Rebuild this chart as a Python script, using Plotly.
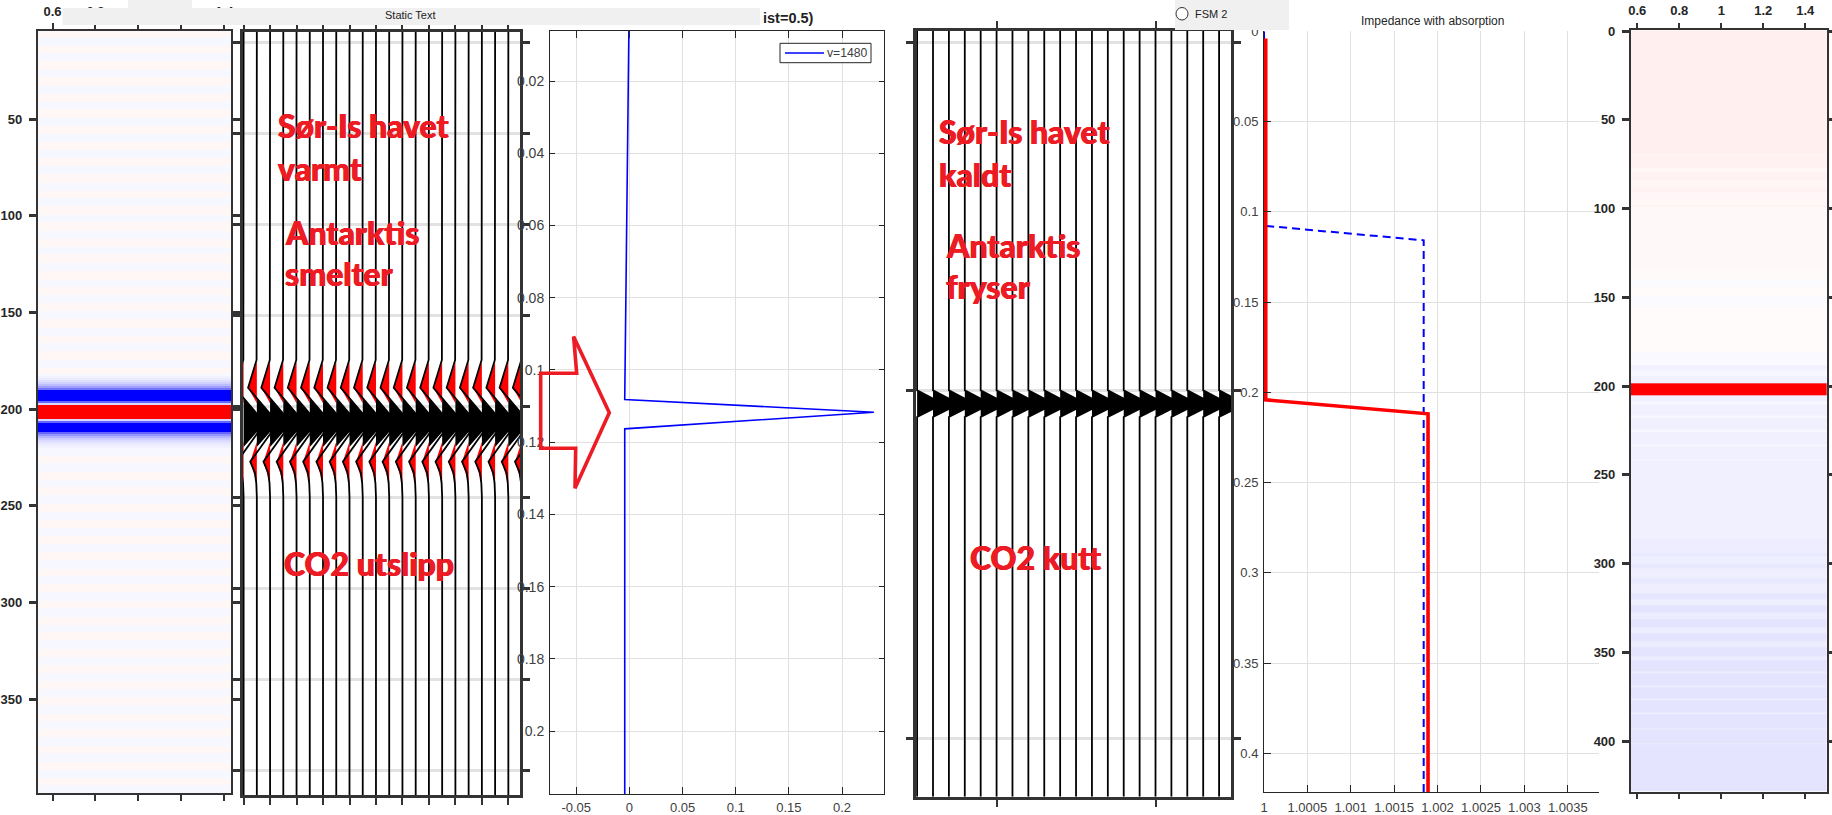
import plotly.graph_objects as go

W, H = 1832, 815
def fx(x): return x / W
def fy(y): return 1 - y / H

# ---------- data ----------
h1_edges = [4.5, 8, 12, 16, 20, 24.5, 28.5, 33, 37, 41, 45, 49.5, 53.5, 58, 62, 66, 70, 74.5, 78.5, 83, 87, 91, 95,
            99.5, 103.5, 108, 112, 116, 120, 124.5, 128.5, 133, 137, 141, 145, 149.5, 153.5, 158, 162, 166, 170,
            174.5, 178.5, 182,
            183, 184, 185, 186, 187, 188, 189, 190,
            196, 197, 198, 205, 206, 207, 212,
            213, 214, 215, 216, 217, 218, 219, 220,
            224, 228, 232.5, 236.5, 240.5, 244.5, 249, 253, 257.5, 261.5, 265.5, 269.5, 274, 278, 282.5, 286.5,
            290.5, 294.5, 299, 303, 307.5, 311.5, 315.5, 319.5, 324, 328, 332.5, 336.5, 340.5, 344.5, 349, 353,
            357.5, 361.5, 365.5, 369.5, 374, 378, 382.5, 386.5, 390.5, 394.5, 398.5]
h1_values = [0.035, -0.03, 0.035, -0.03, 0.035, -0.03, 0.035, -0.03, 0.035, -0.03, 0.035,
             -0.03, 0.035, -0.03, 0.035, -0.03, 0.035, -0.03, 0.035, -0.03, 0.035, -0.03,
             0.035, -0.03, 0.035, -0.03, 0.035, -0.03, 0.035, -0.03, 0.035, -0.03, 0.035,
             -0.03, 0.035, -0.03, 0.035, -0.03, 0.035, -0.03, 0.035, -0.03, 0.035,
             -0.03, -0.05, -0.08, -0.12, -0.18, -0.26, -0.38, -0.55,
             -1, -0.6, -0.15, 1, -0.15, -0.6, -1,
             -0.6, -0.42, -0.3, -0.2, -0.14, -0.1, -0.07, -0.05,
             -0.03, 0.035, -0.03, 0.035, -0.03, 0.035, -0.03, 0.035, -0.03, 0.035, -0.03,
             0.035, -0.03, 0.035, -0.03, 0.035, -0.03, 0.035, -0.03, 0.035, -0.03, 0.035,
             -0.03, 0.035, -0.03, 0.035, -0.03, 0.035, -0.03, 0.035, -0.03, 0.035, -0.03,
             0.035, -0.03, 0.035, -0.03, 0.035, -0.03, 0.035, -0.03, 0.035, -0.03]

h2_edges = [-0.5, 69.5, 70, 77, 79.5, 84, 88, 91, 98, 99, 133, 140, 144, 149, 155, 181, 188, 191, 194.5, 198.3, 205.2,
            208.5, 210.5, 216.5, 218, 224.4, 226, 232.6, 234, 241, 241.6, 285.7, 294, 296, 300.5, 302.8, 308.5, 311,
            316.5, 320, 323.7, 327.4, 331.5, 336, 339, 344, 347, 352, 354.5, 360.4, 362, 368.4, 369.5, 376, 377,
            383.7, 385, 393, 393.5, 401.5, 402, 428.5]
h2_values = [0.062, 0.03, 0.055, 0.03, 0.05, 0.03, 0.05, 0.03, 0.045, 0.027, 0.02, -0.02, 0.015, -0.02, 0.015, -0.025,
             -0.055, -0.03, -0.055, 1, -0.06,
             -0.03, -0.06, -0.03, -0.06, -0.03, -0.06, -0.03, -0.06, -0.03, -0.06, -0.07, -0.09, -0.065, -0.09,
             -0.065, -0.09, -0.065, -0.1, -0.065, -0.105, -0.07, -0.105, -0.07, -0.105, -0.07, -0.105, -0.07,
             -0.105, -0.07, -0.105, -0.07, -0.105, -0.07, -0.105, -0.07, -0.105, -0.07, -0.105, -0.07, -0.105]

w1_traces = [0, 1, 2, 3, 4, 5, 6, 7, 8, 9, 10, 11, 12, 13, 14, 15, 16, 17, 18, 19, 20, 21]
w1_line_t = [44.5, 200, 224.7, 240, 259.3, 280.6, 286.5, 292.5, 300, 463.7]
w1_line_a = [0, -0.02, -0.02, -0.66, 1.6, -0.5, -0.15, -0.04, 0, 0]
w1_neg_t = [[225.7, 240, 248.4], [269.6, 280.6, 292.5]]
w1_neg_a = [[0, -0.66, 0], [0, -0.5, 0]]
w1_pos_t = [246, 259.3, 272.5]
w1_pos_a = [0, 1.6, 0]

w2_traces = [0, 1, 2, 3, 4, 5, 6, 7, 8, 9, 10, 11, 12, 13, 14, 15, 16, 17, 18, 19]
w2_line_t = [46.67, 150, 153.9, 157.7, 266.8]
w2_line_a = [0, 0, 1.62, 0, 0]

refl_y = [0.00607, 0.02, 0.04, 0.07, 0.1082, 0.1117, 0.1163, 0.2174]
refl_x = [-0.0005, -0.001, -0.002, -0.0035, -0.0044, 0.23, -0.0044, -0.0044]

imp_red_x = [1.00002, 1.00002, 1.00189, 1.00189]
imp_red_y = [0.004, 0.2042, 0.2119, 0.4216]
imp_blue_x = [1, 1.00002, 1.00184, 1.00184]
imp_blue_y = [0, 0.1078, 0.1158, 0.4216]

h1_xticks = [0.6, 0.8, 1, 1.2, 1.4]
h1_yticks = [50, 100, 150, 200, 250, 300, 350]
h2_yticks = [0, 50, 100, 150, 200, 250, 300, 350, 400]
refl_xticks = [-0.05, 0, 0.05, 0.1, 0.15, 0.2]
refl_xlabels = ['-0.05', '0', '0.05', '0.1', '0.15', '0.2']
refl_yticks = [0.02, 0.04, 0.06, 0.08, 0.1, 0.12, 0.14, 0.16, 0.18, 0.2]
refl_ylabels = ['0.02', '0.04', '0.06', '0.08', '0.1', '0.12', '0.14', '0.16', '0.18', '0.2']
imp_xticks = [1, 1.0005, 1.001, 1.0015, 1.002, 1.0025, 1.003, 1.0035]
imp_xlabels = ['1', '1.0005', '1.001', '1.0015', '1.002', '1.0025', '1.003', '1.0035']
imp_yticks = [0, 0.05, 0.1, 0.15, 0.2, 0.25, 0.3, 0.35, 0.4]
imp_ylabels = ['0', '0.05', '0.1', '0.15', '0.2', '0.25', '0.3', '0.35', '0.4']

# ---------- style ----------
DARK = '#333333'
TXT = '#404040'
SANS = 'Liberation Sans'
RED_TXT = '#ED1C24'
GRID = '#E0E0E0'
BWR = [[0, 'rgb(0,0,255)'], [0.5, 'rgb(255,255,255)'], [1, 'rgb(255,0,0)']]

fig = go.Figure()

# heatmaps
fig.add_trace(go.Heatmap(x=[0.5, 1.5], y=h1_edges, z=[[v] for v in h1_values], colorscale=BWR, zmin=-1, zmax=1,
                         showscale=False, xaxis='x', yaxis='y'))
fig.add_trace(go.Heatmap(x=[0.5, 1.55], y=h2_edges, z=[[v] for v in h2_values], colorscale=BWR, zmin=-1, zmax=1,
                         showscale=False, xaxis='x6', yaxis='y6'))

def poly(traces, t, a):
    xs, ys = [], []
    for k in traces:
        xs += [k + v for v in a] + [None]
        ys += list(t) + [None]
    return xs, ys

# wiggle panel 1
for t, a in zip(w1_neg_t, w1_neg_a):
    xs, ys = poly(w1_traces, t, a)
    fig.add_trace(go.Scatter(x=xs, y=ys, mode='lines', fill='toself', fillcolor='#FF0000', line=dict(width=0),
                             xaxis='x2', yaxis='y2', showlegend=False))
xs, ys = poly(w1_traces, w1_pos_t, w1_pos_a)
fig.add_trace(go.Scatter(x=xs, y=ys, mode='lines', fill='toself', fillcolor='#000000', line=dict(width=0),
                         xaxis='x2', yaxis='y2', showlegend=False))
xs, ys = poly(w1_traces, w1_line_t, w1_line_a)
fig.add_trace(go.Scatter(x=xs, y=ys, mode='lines', line=dict(color='#000000', width=1.8),
                         xaxis='x2', yaxis='y2', showlegend=False))

# reflection line
fig.add_trace(go.Scatter(x=refl_x, y=refl_y, mode='lines', name='v=1480', line=dict(color='#0000FF', width=1.6),
                         xaxis='x3', yaxis='y3', showlegend=False))

# wiggle panel 2
xs, ys = poly(w2_traces, w2_line_t[1:4], w2_line_a[1:4])
fig.add_trace(go.Scatter(x=xs, y=ys, mode='lines', fill='toself', fillcolor='#000000', line=dict(width=0),
                         xaxis='x4', yaxis='y4', showlegend=False))
xs, ys = poly(w2_traces, w2_line_t, w2_line_a)
fig.add_trace(go.Scatter(x=xs, y=ys, mode='lines', line=dict(color='#000000', width=1.8),
                         xaxis='x4', yaxis='y4', showlegend=False))

# impedance
fig.add_trace(go.Scatter(x=imp_blue_x, y=imp_blue_y, mode='lines', line=dict(color='#0000FF', width=2, dash='8px,5px'),
                         xaxis='x5', yaxis='y5', showlegend=False))
fig.add_trace(go.Scatter(x=imp_red_x, y=imp_red_y, mode='lines', line=dict(color='#FF0000', width=3.6),
                         xaxis='x5', yaxis='y5', showlegend=False))

def dom_x(a, b): return [fx(a), fx(b)]
def dom_y(top, bottom): return [fy(bottom), fy(top)]

bold = dict(family=SANS, size=13, color='#262626', weight=700)
thin = dict(family=SANS, size=13, color=TXT)

layout = dict(
    width=W, height=H, autosize=False, margin=dict(l=0, r=0, t=0, b=0),
    paper_bgcolor='white', plot_bgcolor='white', font=dict(family=SANS),
    showlegend=False,
    # panel 1 heatmap
    xaxis=dict(domain=dom_x(37.5, 231), range=[0.53, 1.431], anchor='y', side='top', tickmode='array',
               tickvals=h1_xticks, ticktext=['0.6', '0.8', '1', '1.2', '1.4'], ticks='outside', ticklen=6, tickwidth=2,
               tickcolor=DARK, showline=True, linecolor=DARK, linewidth=1.5, mirror='ticks', showgrid=False,
               zeroline=False, tickfont=bold, ticklabelstandoff=2),
    yaxis=dict(domain=dom_y(31, 793), range=[398.5, 4.5], anchor='x', tickmode='array', tickvals=h1_yticks,
               ticks='outside', ticklen=7, tickwidth=2.5, tickcolor=DARK, showline=True, linecolor=DARK, linewidth=1.5,
               mirror='ticks', showgrid=False, zeroline=False, tickfont=bold, ticklabelstandoff=4),
    # panel 2 wiggle
    xaxis2=dict(domain=dom_x(243, 520), range=[-0.045, 20.88], anchor='y2', side='top', tickmode='array',
                tickvals=[0, 2, 4, 6, 8, 10, 12, 14, 16, 18, 20], ticks='outside', ticklen=7, tickwidth=2, tickcolor=DARK,
                showticklabels=False, showline=True, linecolor=DARK, linewidth=3, mirror='ticks', showgrid=False,
                zeroline=False),
    yaxis2=dict(domain=dom_y(32, 795), range=[463.7, 44.5], anchor='x2', tickmode='array',
                tickvals=[50, 100, 150, 200, 250, 300, 350, 400, 450], ticks='outside', ticklen=7, tickwidth=3,
                tickcolor=DARK, showticklabels=False, showline=True, linecolor=DARK, linewidth=3, mirror='ticks',
                showgrid=True, gridcolor='#E2E2E2', gridwidth=3, zeroline=False),
    # panel 3 reflection
    xaxis3=dict(domain=dom_x(550, 884), range=[-0.0747, 0.2395], anchor='y3', tickmode='array', tickvals=refl_xticks,
                ticktext=refl_xlabels, ticks='inside', ticklen=7, tickwidth=1, tickcolor='#262626', showline=True,
                linecolor='#262626', linewidth=1, mirror='ticks', showgrid=True, gridcolor=GRID, gridwidth=1,
                zeroline=False, tickfont=thin, ticklabelstandoff=1),
    yaxis3=dict(domain=dom_y(30.7, 794), range=[0.2174, 0.00607], anchor='x3', tickmode='array', tickvals=refl_yticks,
                ticktext=refl_ylabels, ticks='inside', ticklen=5, tickwidth=1, tickcolor='#262626', showline=True,
                linecolor='#262626', linewidth=1, mirror='ticks', showgrid=True, gridcolor=GRID, gridwidth=1,
                zeroline=False, tickfont=dict(family=SANS, size=14, color=TXT), ticklabelstandoff=2),
    # panel 4 wiggle
    xaxis4=dict(domain=dom_x(916, 1231), range=[-0.07, 19.75], anchor='y4', side='top', tickmode='array',
                tickvals=[5, 15], ticks='outside', ticklen=7, tickwidth=1.5, tickcolor=DARK, showticklabels=False,
                showline=True, linecolor=DARK, linewidth=3, mirror='ticks', showgrid=False, zeroline=False),
    yaxis4=dict(domain=dom_y(30.7, 796.7), range=[266.8, 46.67], anchor='x4', tickmode='array',
                tickvals=[50, 150, 250], ticks='outside', ticklen=7, tickwidth=3, tickcolor=DARK, showticklabels=False,
                showline=True, linecolor=DARK, linewidth=3, mirror='ticks', showgrid=True, gridcolor='#E2E2E2',
                gridwidth=3, zeroline=False),
    # panel 5 impedance
    xaxis5=dict(domain=dom_x(1264, 1599), range=[1, 1.00386], anchor='y5', tickmode='array', tickvals=imp_xticks,
                ticktext=imp_xlabels, ticks='inside', ticklen=7, tickwidth=1, tickcolor='#262626', showline=True,
                linecolor='#262626', linewidth=1, showgrid=True, gridcolor=GRID, gridwidth=1, zeroline=False,
                tickfont=thin, ticklabelstandoff=3),
    yaxis5=dict(domain=dom_y(31.3, 792.3), range=[0.4216, 0], anchor='x5', tickmode='array', tickvals=imp_yticks,
                ticktext=imp_ylabels, ticks='inside', ticklen=7, tickwidth=1, tickcolor='#262626', showline=True,
                linecolor='#262626', linewidth=1, showgrid=True, gridcolor=GRID, gridwidth=1, zeroline=False,
                tickfont=thin, ticklabelstandoff=2),
    # panel 6 heatmap
    xaxis6=dict(domain=dom_x(1630.7, 1826.7), range=[0.5686, 1.502], anchor='y6', side='top', tickmode='array',
                tickvals=h1_xticks, ticktext=['0.6', '0.8', '1', '1.2', '1.4'], ticks='outside', ticklen=6, tickwidth=2,
                tickcolor=DARK, showline=True, linecolor=DARK, linewidth=1.5, mirror='ticks', showgrid=False,
                zeroline=False, tickfont=bold, ticklabelstandoff=2),
    yaxis6=dict(domain=dom_y(30.3, 791.7), range=[428.5, -0.5], anchor='x6', tickmode='array', tickvals=h2_yticks,
                ticks='outside', ticklen=7, tickwidth=2.5, tickcolor=DARK, showline=True, linecolor=DARK, linewidth=1.5,
                mirror='ticks', showgrid=False, zeroline=False, tickfont=bold, ticklabelstandoff=4),
)

def rect(x0, y0, x1, y1, color='#F0F0F0', line=None):
    return dict(type='rect', xref='paper', yref='paper', x0=fx(x0), x1=fx(x1), y0=fy(y1), y1=fy(y0),
                fillcolor=color, line=line or dict(width=0), layer='above')

arrow_pts = [(540.7, 373.3), (576.7, 373.3), (573.6, 336.5), (609.3, 412.7), (575, 488.3), (575.7, 448.3), (540.7, 448.3)]
arrow_path = 'M ' + ' L '.join(f'{fx(a):.5f},{fy(b):.5f}' for a, b in arrow_pts) + ' Z'
shapes = [
    rect(62.5, 8, 760, 25), rect(128, 0, 192, 8), rect(1175, 0, 1289, 30),
    dict(type='circle', xref='paper', yref='paper', x0=fx(1176), x1=fx(1188), y0=fy(20), y1=fy(7.5),
         line=dict(color='#333333', width=1), fillcolor='white', layer='above'),
    dict(type='path', xref='paper', yref='paper', path=arrow_path, line=dict(color=RED_TXT, width=3.6), layer='above'),
    rect(780, 43.3, 871, 62.7, color='white', line=dict(color='#262626', width=1)),
    dict(type='line', xref='paper', yref='paper', x0=fx(785), x1=fx(824), y0=fy(53), y1=fy(53),
         line=dict(color='#0000FF', width=1.6), layer='above'),
]

THICK = f'0.5px 0 0 {RED_TXT}, -0.5px 0 0 {RED_TXT}'

def note(text, x, y, size=32, color=RED_TXT, family='Lato', weight=900, anchor='left', shadow=THICK):
    return dict(text=text, x=fx(x), y=fy(y), xref='paper', yref='paper', xanchor=anchor, yanchor='middle',
                showarrow=False, font=dict(family=family, size=size, color=color, weight=weight, shadow=shadow))

def plain(text, x, y, size, color='#222222', weight=400, anchor='left'):
    return note(text, x, y, size=size, color=color, family=SANS, weight=weight, anchor=anchor, shadow='none')

annotations = [
    note('Sør-Is havet', 275.5, 125), note('varmt', 275.5, 168),
    note('Antarktis', 283, 232), note('smelter', 283, 273),
    note('CO2 utslipp', 282, 563),
    note('Sør-Is havet', 936.6, 132), note('kaldt', 936.6, 174),
    note('Antarktis', 944, 245), note('fryser', 944, 286),
    note('CO2 kutt', 968, 557),
    plain('Static Text', 410.7, 15, 11, anchor='center'),
    plain('ist=0.5)', 761, 18, 14.5, weight=700),
    plain('FSM 2', 1193, 14, 11),
    plain('Impedance with absorption', 1432, 20.7, 12, color='#262626', anchor='center'),
    plain('v=1480', 825, 53, 12.2, color=TXT),
]

fig.update_layout(shapes=shapes, annotations=annotations, **layout)
fig.update_xaxes(automargin=False)
fig.update_yaxes(automargin=False)
fig.write_html('out.html', config={'displayModeBar': False}, post_script="document.body.style.margin='0';")
